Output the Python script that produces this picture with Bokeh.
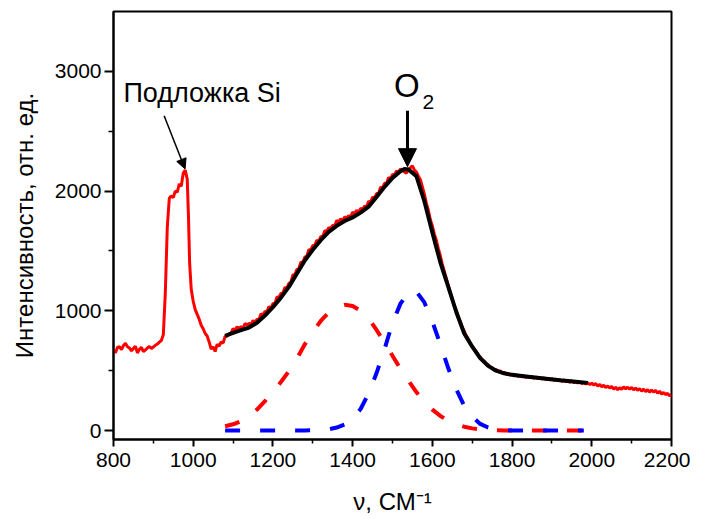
from bokeh.plotting import figure
from bokeh.models import Label, Arrow, NormalHead, FixedTicker
from bokeh.embed import file_html
from bokeh.resources import INLINE

# ---------------- data ----------------
# measured Raman spectrum (red): baseline part, Si substrate peak, O2 band
base_x = list(range(800, 925, 5))
base_y = [670, 650, 695, 700, 675, 710, 728, 700, 690, 665, 685, 705, 648,
          678, 695, 660, 672, 690, 702, 685, 698, 712, 722, 738, 752]
si_x = [925, 930, 935, 940, 945, 950, 955, 960, 965, 970, 975, 980, 985, 988,
        991, 995, 1000, 1005, 1010, 1015, 1020, 1025, 1030, 1035, 1040, 1045,
        1050, 1055, 1060, 1065, 1070, 1075]
si_y = [800, 1150, 1700, 1940, 1960, 1945, 2000, 1990, 2060, 2040, 2150, 2175,
        2100, 1800, 1400, 1180, 1080, 1010, 970, 930, 880, 850, 810, 790, 740,
        680, 700, 660, 720, 705, 740, 730]
band_x = list(range(1080, 2205, 5))
band_y = [785, 790, 805, 815, 850, 836, 866, 852, 868, 854,
          894, 880, 895, 885, 920, 900, 930, 925, 975, 965,
          995, 993, 1035, 1023, 1060, 1060, 1115, 1110, 1145, 1148,
          1195, 1188, 1230, 1238, 1300, 1303, 1345, 1353, 1405, 1403,
          1450, 1453, 1510, 1508, 1545, 1545, 1590, 1580, 1620, 1618,
          1670, 1663, 1695, 1688, 1715, 1708, 1755, 1740, 1770, 1750,
          1785, 1773, 1795, 1783, 1825, 1810, 1840, 1820, 1855, 1848,
          1875, 1868, 1915, 1905, 1950, 1940, 1980, 1981, 2033, 2024,
          2065, 2064, 2113, 2101, 2140, 2134, 2168, 2156, 2185, 2175,
          2160, 2150, 2180, 2195, 2210, 2175, 2160, 2125, 2095, 2035,
          1975, 1900, 1840, 1760, 1710, 1640, 1590, 1520, 1460, 1390,
          1330, 1270, 1210, 1150, 1100, 1040, 1005, 950, 910, 860,
          830, 790, 765, 730, 705, 680, 660, 630, 615, 590,
          580, 560, 550, 530, 525, 505, 510, 490, 500, 480,
          485, 470, 478, 462, 472, 455, 465, 450, 462, 448,
          458, 442, 455, 440, 452, 436, 448, 432, 445, 430,
          440, 425, 437, 422, 433, 418, 430, 415, 426, 410,
          422, 408, 418, 403, 415, 400, 410, 396, 407, 392,
          402, 388, 398, 384, 395, 380, 392, 372, 385, 366,
          378, 360, 372, 355, 368, 345, 362, 340, 358, 343,
          365, 348, 362, 345, 360, 340, 355, 336, 350, 330,
          345, 325, 342, 320, 338, 322, 335, 312, 328, 305,
          318, 300, 310, 290, 300]
spec_x = base_x + si_x + band_x
spec_y = base_y + si_y + band_y

# cumulative fit (black)
fit_x = [1080, 1100, 1120, 1140, 1160, 1180, 1200, 1220, 1240, 1260, 1280,
         1300, 1320, 1340, 1360, 1380, 1400, 1420, 1440, 1460, 1480, 1500,
         1520, 1530, 1540, 1560, 1580, 1600, 1620, 1640, 1660, 1680, 1700,
         1720, 1740, 1760, 1780, 1800, 1840, 1880, 1920, 1960, 1990]
fit_y = [790, 815, 838, 860, 900, 960, 1030, 1110, 1200, 1310, 1420,
         1510, 1590, 1660, 1710, 1750, 1780, 1820, 1870, 1950, 2035, 2110,
         2165, 2185, 2180, 2125, 1915, 1655, 1405, 1200, 990, 810, 700,
         605, 540, 500, 478, 465, 450, 435, 420, 408, 398]

# fitted components (dashed)
comp_x = [1080, 1100, 1120, 1140, 1160, 1180, 1200, 1220, 1240, 1260, 1280,
          1300, 1320, 1340, 1360, 1380, 1400, 1420, 1440, 1460, 1480, 1500,
          1520, 1540, 1560, 1580, 1600, 1620, 1640, 1660, 1680, 1700, 1720,
          1740, 1760, 1780, 1800, 1820, 1840, 1860, 1880, 1900, 1920, 1940,
          1960, 1980]
comp1_y = [36, 52, 78, 118, 175, 245, 320, 405, 495, 600, 720,
           825, 915, 985, 1030, 1050, 1040, 1000, 935, 840, 735, 625,
           515, 415, 320, 240, 175, 122, 82, 52, 32, 18, 10,
           5, 2, 1, 0, 0, 0, 0, 0, 0, 0, 0,
           0, 0]
comp2_y = [0, 0, 0, 0, 0, 0, 0, 0, 0, 0, 1,
           2, 5, 10, 25, 50, 100, 180, 310, 480, 680, 900,
           1060, 1155, 1160, 1070, 910, 720, 520, 345, 205, 115, 55,
           25, 10, 4, 0, 0, 0, 0, 0, 0, 0, 0,
           0, 0]

x_ticks = [800, 1000, 1200, 1400, 1600, 1800, 2000, 2200]
x_minor = [900, 1100, 1300, 1500, 1700, 1900, 2100]
y_ticks = [0, 1000, 2000, 3000]
y_minor = [500, 1500, 2500]

# ---------------- figure ----------------
p = figure(width=690, height=519, x_range=(800, 2200), y_range=(-75, 3500),
           output_backend="svg", toolbar_location=None,
           min_border_left=113, min_border_right=19,
           min_border_top=11, min_border_bottom=80)
p.grid.visible = False
p.outline_line_color = "black"
p.outline_line_width = 2
p.outline_line_alpha = 1.0
p.background_fill_color = "white"
p.border_fill_color = "white"

p.xaxis.ticker = FixedTicker(ticks=x_ticks, minor_ticks=x_minor)
p.yaxis.ticker = FixedTicker(ticks=y_ticks, minor_ticks=y_minor)
for ax in (p.xaxis, p.yaxis):
    ax.axis_line_width = 2
    ax.axis_line_color = "black"
    ax.major_tick_line_width = 2
    ax.major_tick_line_color = "black"
    ax.minor_tick_line_width = 1.5
    ax.minor_tick_line_color = "black"
    ax.major_tick_in = 0
    ax.minor_tick_in = 0
    ax.major_label_text_font = "Liberation Sans"
    ax.major_label_text_font_size = "21px"
    ax.major_label_text_color = "black"
    ax.axis_label_text_font = "Liberation Sans"
    ax.axis_label_text_font_size = "24px"
    ax.axis_label_text_font_style = "normal"
    ax.axis_label_text_color = "black"
p.xaxis.major_tick_out = 7
p.xaxis.minor_tick_out = 4
p.xaxis.major_label_standoff = 6
p.yaxis.major_tick_out = 9
p.yaxis.minor_tick_out = 5
p.yaxis.major_label_standoff = 3

p.yaxis.axis_label = "Интенсивность, отн. ед."
p.yaxis.axis_label_standoff = 14
p.xaxis.axis_label = "ν, СМ⁻¹"
p.xaxis.axis_label_standoff = 18

# ---------------- glyphs ----------------
p.line(spec_x, spec_y, line_color="#ff0000", line_width=3)
p.line(comp_x, comp1_y, line_color="#ff0000", line_width=4, line_dash="15 20")
p.line(comp_x, comp2_y, line_color="#0000ff", line_width=4, line_dash="15 20")
p.line(fit_x, fit_y, line_color="black", line_width=4)

# ---------------- annotations ----------------
def txt(x, y, s, size, **kw):
    p.add_layout(Label(x=x, y=y, text=s, text_font="Liberation Sans",
                       text_font_size=size, text_color="black",
                       text_baseline="alphabetic", **kw))

txt(825, 2820, "Подложка Si", "27px")
p.add_layout(Arrow(end=NormalHead(size=10, fill_color="black", line_color="black"),
                   x_start=927, y_start=2630, x_end=979.6, y_end=2185,
                   line_width=1.5, line_color="black"))
txt(1504, 2880, "O", "33px")
txt(1575, 2741, "2", "21px")
p.add_layout(Arrow(end=NormalHead(size=18, fill_color="black", line_color="black"),
                   x_start=1537.6, y_start=2672, x_end=1537.6, y_end=2204,
                   line_width=3, line_color="black"))

open("out.html", "w").write(file_html(p, INLINE))
